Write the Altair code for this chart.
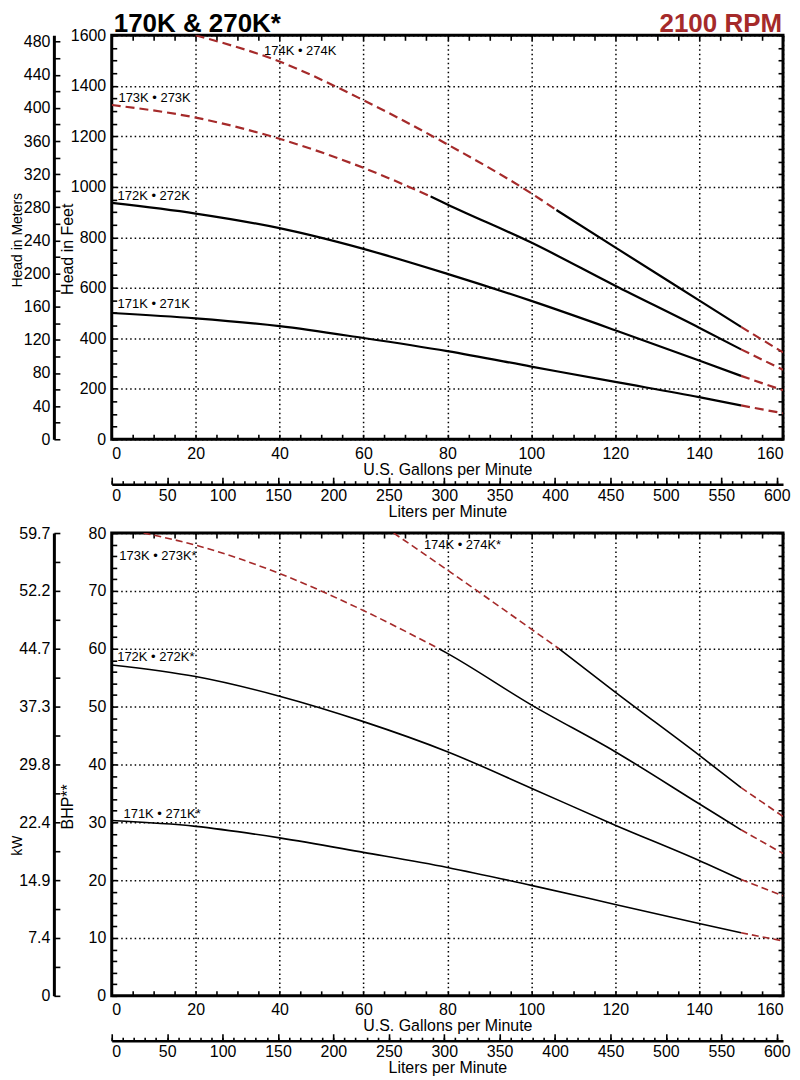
import altair as alt
import pandas as pd

FONT = "Liberation Sans"
RED = "#a52a2a"
TITLE = "170K & 270K*"
RPM = "2100 RPM"

# ---------------- axis tick values ----------------
GPM_LABELS = [0, 20, 40, 60, 80, 100, 120, 140, 160]
GPM_TICKS = list(range(0, 161, 5))
LPM_LABELS = list(range(0, 601, 50))
LPM_TICKS = list(range(0, 601, 10))
FT_LABELS = list(range(0, 1601, 200))
FT_TICKS = list(range(0, 1601, 50))
M_LABELS = list(range(0, 481, 40))
M_TICKS = list(range(0, 481, 20))
BHP_LABELS = list(range(0, 81, 10))
BHP_TICKS = list(range(0, 81, 2))
KW_TICKS = list(range(0, 81, 5))          # positions in BHP units
KW_TEXT = ["0", "7.4", "14.9", "22.4", "29.8", "37.3", "44.7", "52.2", "59.7"]

# ---------------- head curves (feet) ----------------
GPM_H12 = [0, 20, 40, 60, 80, 100, 120, 140, 150, 160]
HEAD_171 = [500, 479, 448, 401, 349, 288, 227, 167, 134, 103]
HEAD_172 = [936, 894, 836, 754, 655, 548, 432, 312, 251, 194]
GPM_H173 = [0, 20, 40, 60, 76, 80, 100, 120, 140, 150, 160]
HEAD_173 = [1324, 1274, 1190, 1075, 962, 930, 779, 608, 442, 356, 275]
GPM_H174 = [20, 40, 60, 80, 100, 106, 120, 140, 150, 160]
HEAD_174 = [1600, 1496, 1343, 1168, 974, 908, 760, 550, 445, 344]

# ---------------- power curves (BHP) ----------------
GPM_P12 = [0, 20, 40, 60, 80, 100, 120, 140, 150, 160]
BHP_171 = [30.3, 29.3, 27.3, 24.8, 22.2, 19.1, 15.8, 12.5, 10.9, 9.5]
BHP_172 = [57.2, 55.2, 51.8, 47.4, 42.2, 35.9, 29.5, 23.4, 20.1, 17.3]
GPM_P173 = [7.6, 20, 40, 60, 78, 80, 100, 120, 140, 150, 160]
BHP_173 = [80, 77.9, 73.0, 66.6, 60.0, 59.2, 50.3, 42.2, 33.2, 28.7, 24.6]
GPM_P174 = [67.2, 80, 100, 106.6, 120, 140, 150, 160]
BHP_174 = [80, 73.6, 63.4, 60.0, 52.5, 41.6, 36.0, 31.0]

# segments (start gpm, end gpm, style)
SEG_H = {
    "171": [(0, 150, "solid"), (150, 160, "dashed")],
    "172": [(0, 150, "solid"), (150, 160, "dashed")],
    "173": [(0, 76, "dashed"), (76, 150, "solid"), (150, 160, "dashed")],
    "174": [(20, 106, "dashed"), (106, 150, "solid"), (150, 160, "dashed")],
}
SEG_P = {
    "171": [(0, 150, "solid"), (150, 160, "dashed")],
    "172": [(0, 150, "solid"), (150, 160, "dashed")],
    "173": [(0, 78, "dashed"), (78, 150, "solid"), (150, 160, "dashed")],
    "174": [(60, 106.6, "dashed"), (106.6, 150, "solid"), (150, 160, "dashed")],
}

# curve labels
HEAD_LABEL_TEXT = ["171K • 271K", "172K • 272K", "173K • 273K", "174K •  274K"]
HEAD_LABEL_GPM = [1.4, 1.4, 1.6, 36.3]
HEAD_LABEL_VAL = [534, 965, 1351, 1536]
BHP_LABEL_TEXT = ["171K • 271K*", "172K • 272K*", "173K • 273K*", "174K • 274K*"]
BHP_LABEL_GPM = [2.8, 1.3, 1.8, 74.4]
BHP_LABEL_VAL = [31.4, 58.5, 76.0, 77.9]

W = 673
H_TOP = 405
H_BOT = 464
GPM_MAX = 160
LPM_MAX = 160 * 3.78541
FT_MAX = 1600
M_MAX = 1600 * 0.3048
BHP_MAX = 80


def curve_df(items):
    rows = []
    for name, gpm, vals, segs in items:
        for i, (a, b, style) in enumerate(segs):
            for g, v in zip(gpm, vals):
                if a <= g <= b:
                    rows.append({"gpm": g, "val": v, "seg": f"{name}-{i}", "style": style})
    return pd.DataFrame(rows)


def ax(orient, values, labels=False, tick=0, domain=False, dwidth=3, grid=False,
       title=None, offset=0, **kw):
    d = dict(orient=orient, values=values, labels=labels, domain=domain, grid=grid,
             labelFont=FONT, labelFontSize=16, labelColor="black", format="d",
             titleFont=FONT, titleFontSize=16, titleColor="black", titleFontWeight="normal",
             title=title)
    if tick:
        d.update(ticks=True, tickSize={"expr": str(-tick)}, tickColor="black", tickWidth=1.6)
    else:
        d["ticks"] = False
    if domain:
        d.update(domainColor="black", domainWidth=dwidth)
    if grid:
        d.update(gridColor="black", gridDash=[1.5, 3], gridWidth=1.5, gridOpacity=1)
    if offset:
        d["offset"] = offset
    d.update(kw)
    return alt.Axis(**d)


DUMMY = pd.DataFrame({"a": [0.0], "b": [0.0]})


def axis_layer(xaxis=None, xdom=None, yaxis=None, ydom=None):
    enc = {}
    if xaxis is not None:
        enc["x"] = alt.X("a:Q", scale=alt.Scale(domain=xdom, nice=False, zero=False), axis=xaxis)
    if yaxis is not None:
        enc["y"] = alt.Y("b:Q", scale=alt.Scale(domain=ydom, nice=False, zero=False), axis=yaxis)
    return alt.Chart(DUMMY).mark_point(opacity=0).encode(**enc)


def panel(height, ymax, y_lab, y_tick, y_title, y_title_y,
          sec_max, sec_lab, sec_tick, sec_title, sec_title_y, sec_expr,
          cdf, ldf, dash, lw, header):
    GX = [0, GPM_MAX]
    LX = [0, LPM_MAX]
    GY = [0, ymax]
    SY = [0, sec_max]
    layers = []
    # grid + labels of the plot frame
    layers.append(axis_layer(
        ax("bottom", GPM_LABELS, labels=True, grid=True, labelPadding=6,
           title="U.S. Gallons per Minute", titlePadding=0), GX,
        ax("left", y_lab, labels=True, grid=True, labelPadding=6, title=y_title,
           titleX=-44, titleY=y_title_y, titleAngle=-90, titleAlign="center",
           titleBaseline="middle"), GY))
    # inward ticks bottom / left
    layers.append(axis_layer(ax("bottom", GPM_TICKS, tick=5), GX,
                             ax("left", y_tick, tick=5), GY))
    # inward ticks top / right
    layers.append(axis_layer(ax("top", GPM_TICKS, tick=5), GX,
                             ax("right", y_tick, tick=5), GY))
    # secondary axes: labels + domain
    sec_kw = dict(labels=True, domain=True, dwidth=3, offset=58, labelPadding=4,
                  title=sec_title, titleX=-36, titleY=sec_title_y, titleAngle=-90,
                  titleAlign="center", titleBaseline="middle", titleFontSize=14)
    if sec_expr:
        sec_kw["labelExpr"] = sec_expr
    layers.append(axis_layer(
        ax("bottom", LPM_LABELS, labels=True, domain=True, dwidth=2.5, offset=45,
           labelPadding=3, title="Liters per Minute", titlePadding=0), LX,
        ax("left", sec_lab, **sec_kw), SY))
    # secondary axes: ticks
    layers.append(axis_layer(ax("bottom", LPM_LABELS, tick=7, offset=45), LX,
                             ax("left", sec_tick, tick=6, offset=58), SY))
    layers.append(axis_layer(ax("bottom", LPM_TICKS, tick=3.5, offset=45), LX))

    xs = alt.X("gpm:Q", scale=alt.Scale(domain=GX, nice=False, zero=False), axis=None)
    ys = alt.Y("val:Q", scale=alt.Scale(domain=GY, nice=False, zero=False), axis=None)
    base = alt.Chart(cdf)
    layers.append(base.transform_filter(alt.datum.style == "dashed").mark_line(
        color=RED, strokeDash=dash, strokeWidth=lw, interpolate="monotone", clip=True
    ).encode(x=xs, y=ys, detail="seg:N"))
    layers.append(base.transform_filter(alt.datum.style == "solid").mark_line(
        color="black", strokeWidth=lw, interpolate="monotone", clip=True
    ).encode(x=xs, y=ys, detail="seg:N"))
    layers.append(alt.Chart(ldf).mark_text(
        align="left", baseline="middle", font=FONT, fontSize=13, color="black"
    ).encode(x=alt.X("gpm:Q", scale=alt.Scale(domain=GX, nice=False, zero=False), axis=None),
             y=alt.Y("val:Q", scale=alt.Scale(domain=GY, nice=False, zero=False), axis=None),
             text="label:N"))
    if header:
        hdf = pd.DataFrame({"t": [TITLE], "r": [RPM]})
        layers.append(alt.Chart(hdf).mark_text(
            align="left", baseline="alphabetic", font=FONT, fontSize=26,
            fontWeight="bold", color="black").encode(
            x=alt.value(2), y=alt.value(-3), text="t:N"))
        layers.append(alt.Chart(hdf).mark_text(
            align="right", baseline="alphabetic", font=FONT, fontSize=26,
            fontWeight="bold", color=RED).encode(
            x=alt.value(W - 1), y=alt.value(-3), text="r:N"))
    return alt.layer(*layers).resolve_scale(x="independent", y="independent").resolve_axis(
        x="independent", y="independent").properties(width=W, height=height)


head_df = curve_df([
    ("171", GPM_H12, HEAD_171, SEG_H["171"]),
    ("172", GPM_H12, HEAD_172, SEG_H["172"]),
    ("173", GPM_H173, HEAD_173, SEG_H["173"]),
    ("174", GPM_H174, HEAD_174, SEG_H["174"]),
])
bhp_df = curve_df([
    ("171", GPM_P12, BHP_171, SEG_P["171"]),
    ("172", GPM_P12, BHP_172, SEG_P["172"]),
    ("173", GPM_P173, BHP_173, SEG_P["173"]),
    ("174", GPM_P174, BHP_174, SEG_P["174"]),
])
head_lab = pd.DataFrame({"label": HEAD_LABEL_TEXT, "gpm": HEAD_LABEL_GPM, "val": HEAD_LABEL_VAL})
bhp_lab = pd.DataFrame({"label": BHP_LABEL_TEXT, "gpm": BHP_LABEL_GPM, "val": BHP_LABEL_VAL})

kw_expr = "[" + ",".join(f"'{t}'" for t in KW_TEXT) + "][round(datum.value / 10)]"

top = panel(H_TOP, FT_MAX, FT_LABELS, FT_TICKS, "Head in Feet", 214,
            M_MAX, M_LABELS, M_TICKS, "Head in Meters", 205, None,
            head_df, head_lab, [9, 5], 2.2, True)
bottom = panel(H_BOT, BHP_MAX, BHP_LABELS, BHP_TICKS, "BHP**", 274,
               BHP_MAX, BHP_LABELS, KW_TICKS, "kW", 313, kw_expr,
               bhp_df, bhp_lab, [7, 4], 1.6, False)

chart = alt.vconcat(top, bottom, spacing=2).properties(
    padding={"left": 1, "top": 0, "right": 0, "bottom": 0}
).configure_view(stroke="black", strokeWidth=3)

chart.save("out.html", embed_options={"renderer": "svg", "actions": False})
